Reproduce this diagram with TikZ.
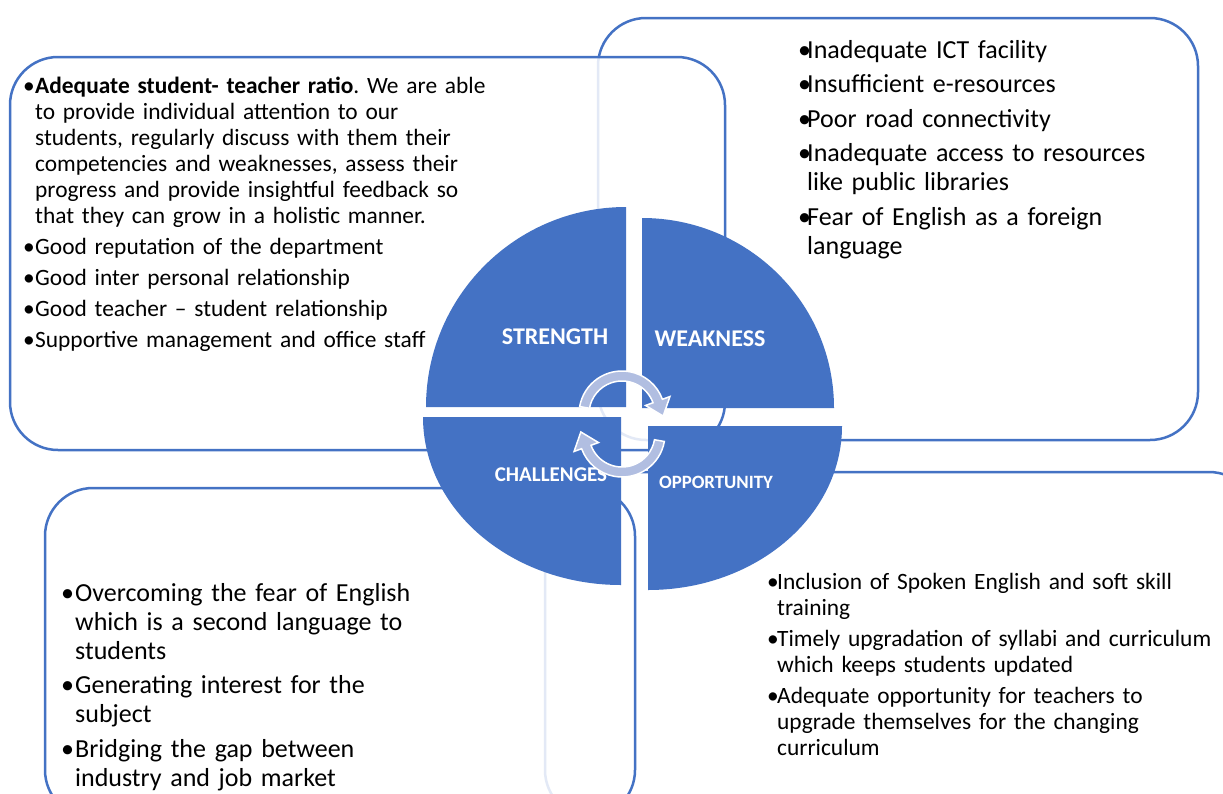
\documentclass[tikz,border=0pt]{standalone}
\usepackage{fontspec}
\setmainfont{Carlito}
\usetikzlibrary{calc}
\definecolor{swotblue}{HTML}{4472C4}
\definecolor{cyclearrow}{HTML}{B1BEE1}
\newlength{\bulw}
\newcommand{\swotitem}[1]{\noindent\hangindent=\bulw\hangafter=1\makebox[\bulw][l]{\textbullet}#1\par}
\frenchspacing

\begin{document}
\begin{tikzpicture}[x=1pt, y=-1pt,
    panel/.style={draw=swotblue, line width=2.5pt, fill=white, fill opacity=0.85, rounded corners=48pt},
    quad/.style={fill=swotblue},
    listtext/.style={anchor=north west, inner sep=0pt, align=left, text=black},
    bigtext/.style={font=\fontsize{26}{29}\selectfont\setlength{\parskip}{5.5pt}},
    smalltext/.style={font=\fontsize{23.4}{26}\selectfont\setlength{\parskip}{5pt}},
    quadlabel/.style={text=white, inner sep=0pt},
    cyclearr/.style={fill=cyclearrow, draw=white, line width=1.5pt}]
    \useasboundingbox (0,0) rectangle (1223,793);
    \clip (0,0) rectangle (1223,793);

    % the four panels, back to front
    \draw[panel] (598,18) rectangle (1198,440);
    \draw[panel] (10,57) rectangle (725,450);
    \draw[panel] (545,472) rectangle (1257,818);
    \draw[panel] (45,488) rectangle (635,818);

    % panel texts
    \node[listtext, smalltext, text width=500pt] (strengthlist) at (23,77) {\setlength{\bulw}{12pt}%
        \swotitem{\textbf{Adequate student- teacher ratio}. We are able\newline
            to provide individual attention to our\newline
            students, regularly discuss with them their\newline
            competencies and weaknesses, assess their\newline
            progress and provide insightful feedback so\newline
            that they can grow in a holistic manner.}
        \swotitem{Good reputation of the department}
        \swotitem{Good inter personal relationship}
        \swotitem{Good teacher -- student relationship}
        \swotitem{Supportive management and office staff}};
    \node[listtext, bigtext, text width=395pt] (weaknesslist) at (798,40) {\setlength{\bulw}{9pt}%
        \swotitem{Inadequate ICT facility}
        \swotitem{Insufficient e-resources}
        \swotitem{Poor road connectivity}
        \swotitem{Inadequate access to resources\newline like public libraries}
        \swotitem{Fear of English as a foreign\newline language}};
    \node[listtext, bigtext, text width=390pt] (challengelist) at (61,583) {\setlength{\bulw}{14pt}%
        \swotitem{Overcoming the fear of English\newline which is a second language to\newline students}
        \swotitem{Generating interest for the\newline subject}
        \swotitem{Bridging the gap between\newline industry and job market}};
    \node[listtext, smalltext, text width=452pt] (opportunitylist) at (767,573) {\setlength{\bulw}{10pt}%
        \swotitem{Inclusion of Spoken English and soft skill\newline training}
        \swotitem{Timely upgradation of syllabi and curriculum\newline which keeps students updated}
        \swotitem{Adequate opportunity for teachers to\newline upgrade themselves for the changing\newline curriculum}};

    % split circle
    \fill[quad] (626,407) -- ++(-200,0) arc[start angle=180, end angle=270, radius=200] -- cycle;
    \fill[quad] (642,408) -- ++(0,-190) arc[start angle=270, end angle=360, x radius=192, y radius=190] -- cycle;
    \fill[quad] (621,417) -- ++(-198,0) arc[start angle=180, end angle=90, x radius=198, y radius=168] -- cycle;
    \fill[quad] (648,426) -- ++(194,0) arc[start angle=0, end angle=90, x radius=194, y radius=164] -- cycle;

    \node[quadlabel, font=\fontsize{24}{26}\selectfont\bfseries] (strength) at (555,337) {STRENGTH};
    \node[quadlabel, font=\fontsize{24}{26}\selectfont\bfseries] (weakness) at (710,339) {WEAKNESS};
    \node[quadlabel, font=\fontsize{21}{24}\selectfont\bfseries] (challenges) at (551,475) {CHALLENGES};
    \node[quadlabel, font=\fontsize{18.8}{21}\selectfont\bfseries] (opportunity) at (716,482) {OPPORTUNITY};

    % cycle arrows
    \begin{scope}[shift={(622,414)}]
        \draw[cyclearr] (190:43) arc[start angle=190, end angle=340, radius=43] -- (340:51)
            -- ($(340:38)+(70:16)$) -- (340:25) -- (340:33) arc[start angle=340, end angle=190, radius=33] -- cycle;
    \end{scope}
    \begin{scope}[shift={(622,434)}]
        \draw[cyclearr] (10:43) arc[start angle=10, end angle=160, radius=43] -- (160:51)
            -- ($(160:38)+(250:16)$) -- (160:25) -- (160:33) arc[start angle=160, end angle=10, radius=33] -- cycle;
    \end{scope}
\end{tikzpicture}
\end{document}
